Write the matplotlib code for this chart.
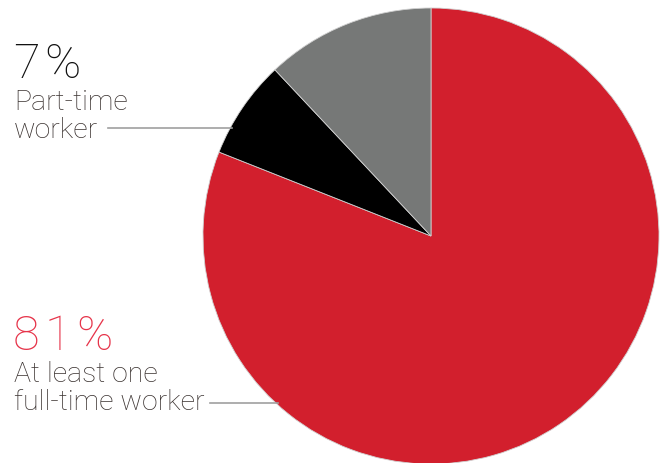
import matplotlib
matplotlib.use("Agg")
import matplotlib.pyplot as plt

# Household work status shares (percent)
categories = ["At least one full-time worker", "Part-time worker", "Other"]
shares = [81, 7, 12]
pct_labels = ["81%", "7%"]
colors = ["#D21F2D", "#000000", "#767877"]

W, H = 662, 463
fig = plt.figure(figsize=(W / 100, H / 100), dpi=100)
ax = fig.add_axes([0, 0, 1, 1])

cx, cy, r = 431, H - 236, 228
ax.pie(shares, colors=colors, startangle=90, counterclock=False,
       center=(cx, cy), radius=r, frame=True,
       wedgeprops=dict(edgecolor="#d0d0d0", linewidth=0.6))
ax.set_xlim(0, W)
ax.set_ylim(0, H)
ax.set_aspect("equal")
ax.axis("off")

text_col = "#3a3230"
font = dict(family=["Roboto", "DejaVu Sans"], fontweight="light")
renderer = fig.canvas.get_renderer()


def tracked_text(x, y, s, tracking, **kw):
    """Draw a string glyph by glyph with extra letter spacing (pixels)."""
    for ch in s:
        t = ax.text(x, y, ch, va="baseline", **kw)
        bb = t.get_window_extent(renderer=renderer)
        x += bb.width + tracking


# Part-time label
tracked_text(13, H - 78, pct_labels[1], 5, fontsize=35, color="#111111", **font)
ax.text(14, H - 110, "Part-time", fontsize=20.5, color=text_col, va="baseline", **font)
ax.text(14, H - 138, "worker", fontsize=20.5, color=text_col, va="baseline", **font)
ax.plot([108, 232], [H - 128, H - 128], color="#a0a0a0", lw=1.2)

# Full-time label
tracked_text(13, H - 350, pct_labels[0], 5, fontsize=35, color="#E6344A", **font)
ax.text(14, H - 382, "At least one", fontsize=20.5, color=text_col, va="baseline", **font)
ax.text(14, H - 410, "full-time worker", fontsize=20.5, color=text_col, va="baseline", **font)
ax.plot([210, 278], [H - 403, H - 403], color="#a0a0a0", lw=1.2)

fig.savefig("out.png", dpi=100)
